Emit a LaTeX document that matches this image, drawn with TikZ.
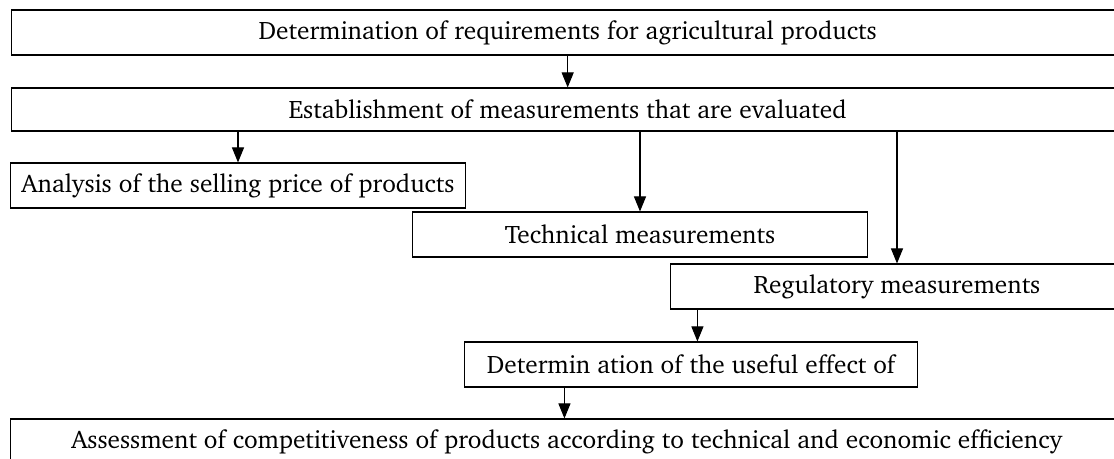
\documentclass[tikz,border=0pt]{standalone}
\usepackage[T1]{fontenc}
\usepackage{charter}
\usepackage{tikz}
\usetikzlibrary{arrows.meta}

\begin{document}
\begin{tikzpicture}[x=0.025cm,y=-0.025cm]
    % Define box shapes
    \tikzstyle{stage}=[draw, rectangle, line width=0.75pt, inner sep=0pt, minimum height=1.125cm, font=\fontsize{18}{21}\selectfont]
    \tikzstyle{wide}=[stage, minimum width=27.8cm, anchor=west]
    \tikzstyle{link}=[line width=0.75pt, -{Triangle[length=0.375cm,width=0.3cm]}]

    % Page frame (wide boxes run off the right edge)
    \useasboundingbox (0,0) rectangle (1114,459);
    \clip (0,0) rectangle (1114,459);

    % Place main stages
    \node[wide] (req) at (11,32.5) {Determination of requirements for agricultural products};
    \node[wide, minimum height=1.075cm] (meas) at (11,109.5) {Establishment of measurements that are evaluated};

    % Place measurement boxes
    \node[stage, minimum width=11.35cm] (price) at (238,185.5) {Analysis of the selling price of products};
    \node[stage, minimum width=11.35cm] (tech) at (640,234.5) {Technical measurements};
    \node[stage, minimum width=11.3cm] (reg) at (897,286.5) {Regulatory measurements};

    % Place result boxes
    \node[stage, minimum width=11.3cm] (effect) at (691,364.5) {Determin ation of the useful effect of};
    \node[wide] (assess) at (10,441.5) {Assessment of competitiveness of products according to technical and economic efficiency};

    % Exit points off centre
    \coordinate (regout) at ([xshift=0.675cm]reg.south west);
    \coordinate (effout) at ([xshift=2.5cm]effect.south west);

    % Connect stages
    \draw[link] (req) -- (meas);
    \draw[link] (meas.south -| price.north) -- (price.north);
    \draw[link] (meas.south -| tech.north) -- (tech.north);
    \draw[link] (meas.south -| reg.north) -- (reg.north);
    \draw[link] (regout) -- (regout |- effect.north);
    \draw[link] (effout) -- (effout |- assess.north);
\end{tikzpicture}
\end{document}
